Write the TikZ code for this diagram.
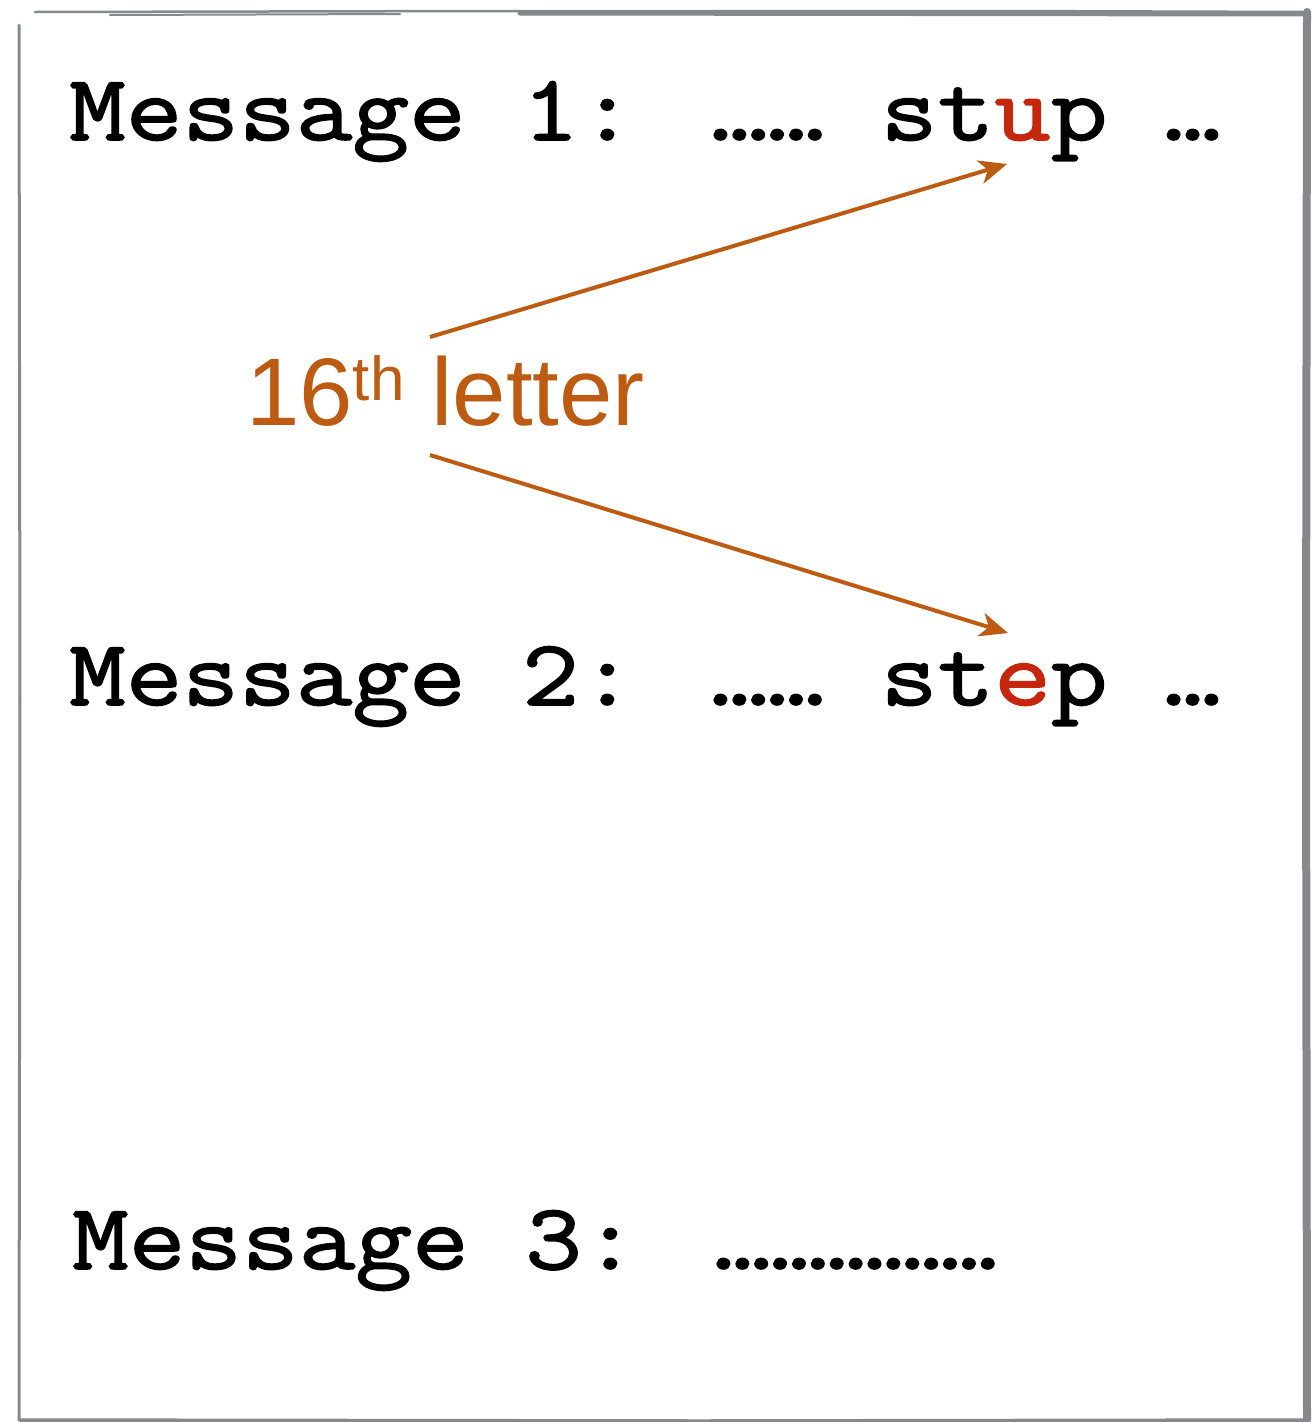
\documentclass[tikz,border=0pt]{standalone}
\usepackage{fontspec}
\usetikzlibrary{arrows.meta}
\newfontfamily\monof[FakeBold=1.7,FakeStretch=1.17]{Latin Modern Mono}
\newfontfamily\labf{Liberation Sans}
\definecolor{frame}{RGB}{134,136,140}
\definecolor{accent}{RGB}{189,91,19}
\definecolor{hl}{RGB}{198,38,12}
\begin{document}
\begin{tikzpicture}[x=1pt,y=-1pt,
  msg/.style={anchor=base west,inner sep=0pt,font=\monof\fontsize{94}{100}\selectfont},
  lab/.style={anchor=base west,inner sep=0pt,text=accent,font=\labf\fontsize{96}{100}\selectfont},
  pointer/.style={draw=accent,line width=4pt,-{Stealth[length=28pt,width=24pt,inset=8pt]}},
  edge/.style={draw=frame,line cap=round}]
\useasboundingbox (0,0) rectangle (1313,1422);
\fill[white] (0,0) rectangle (1313,1422);
% sketchy frame
\draw[edge,line width=2.5pt] (35,12) -- (500,11) -- (1000,11) -- (1306,12);
\draw[edge,line width=2pt] (110,15) -- (400,14);
\draw[edge,line width=5pt] (520,13) -- (1306,14);
\draw[edge,line width=8pt] (1307,12) -- (1306,700) -- (1307,1420);
\draw[edge,line width=3pt] (19,25) -- (20,700) -- (19,1420);
\draw[edge,line width=3.5pt] (20,1420) -- (700,1421) -- (1306,1420);
% messages
\node[msg] (m1) at (69,140) {Message 1: …… st\textcolor{hl}{u}p …};
\node[msg] (m2) at (69,705) {Message 2: …… st\textcolor{hl}{e}p …};
\node[msg] (m3) at (72,1269) {Message 3: ……………};
% label
\node[lab] (lbl) at (246,425) {16\raisebox{25pt}{\fontsize{62}{62}\selectfont th} letter};
\coordinate (s1) at (430,337);
\coordinate (e1) at (1007,164);
\coordinate (s2) at (430,455);
\coordinate (e2) at (1008,633);
\draw[pointer] (s1) -- (e1);
\draw[pointer] (s2) -- (e2);
\end{tikzpicture}
\end{document}
